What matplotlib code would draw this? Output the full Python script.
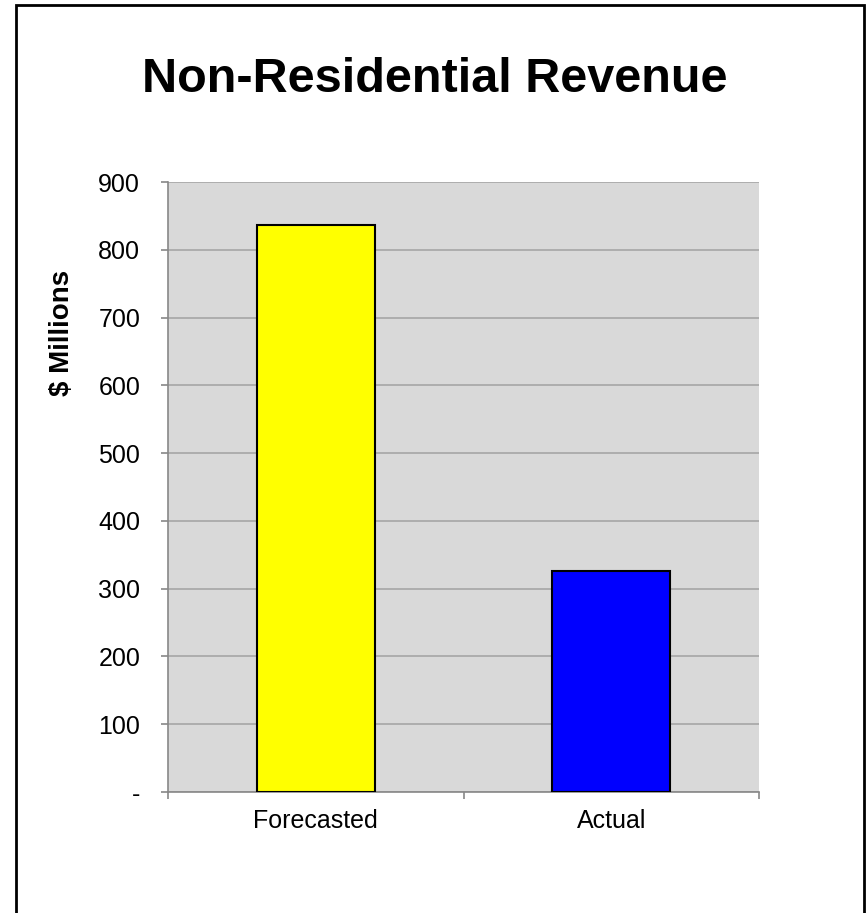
import matplotlib.pyplot as plt
from matplotlib.patches import Rectangle
from matplotlib.ticker import FuncFormatter

categories = ['Forecasted', 'Actual']
revenue = [836, 326]
bar_colors = ['#FFFF00', '#0000FF']
yticks = [0, 100, 200, 300, 400, 500, 600, 700, 800, 900]

plt.rcParams['font.family'] = ['Liberation Sans', 'DejaVu Sans']

fig = plt.figure(figsize=(8.68, 9.13), dpi=100)
# outer chart border
fig.patches.append(Rectangle((16 / 868, -0.01), (864 - 16) / 868, 1.01 - 5 / 913,
                             transform=fig.transFigure, fill=False,
                             edgecolor='black', linewidth=2))

ax = fig.add_axes([168 / 868, 1 - 792 / 913, (759 - 168) / 868, (792 - 182) / 913])
ax.set_facecolor('#D9D9D9')

x = list(range(len(categories)))
ax.bar(x, revenue, width=0.4, color=bar_colors, edgecolor='black', linewidth=1.5, zorder=3)

ax.set_xlim(-0.5, len(categories) - 0.5)
ax.set_ylim(0, 900)
ax.set_yticks(yticks)
ax.yaxis.set_major_formatter(FuncFormatter(lambda v, p: '-' if v == 0 else f'{int(v)}'))
ax.grid(axis='y', color='#A6A6A6', linewidth=1.2, zorder=1)

ax.set_xticks(x)
ax.set_xticklabels(categories)
ax.set_xticks([-0.5, 0.5, 1.5], minor=True)
ax.tick_params(axis='x', which='major', length=0, labelsize=18, pad=12)
ax.tick_params(axis='x', which='minor', length=5, color='#888888', width=1.2)
ax.tick_params(axis='y', length=5, color='#888888', width=1.2, labelsize=18, pad=15)

for s in ['top', 'right']:
    ax.spines[s].set_visible(False)
for s in ['left', 'bottom']:
    ax.spines[s].set_color('#888888')
    ax.spines[s].set_linewidth(1.2)

ax.set_ylabel('$ Millions', fontsize=20, fontweight='bold')
ax.yaxis.set_label_coords(-0.157, (792 - 333) / 610)
fig.text(435 / 868, 1 - 79 / 913, 'Non-Residential Revenue', ha='center', va='center',
         fontsize=35, fontweight='bold')

fig.savefig('out.png', dpi=100)
